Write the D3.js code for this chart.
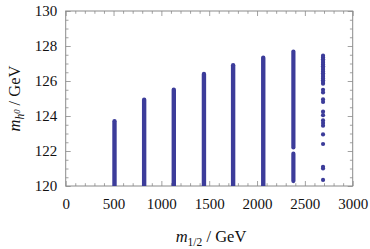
<!DOCTYPE html>
<html>
<head>
<meta charset="utf-8">
<script src="https://cdn.jsdelivr.net/npm/d3@7"></script>
<style>
  body { margin: 0; background: #fff; }
  text { font-family: "Liberation Serif", "Times New Roman", serif; }
</style>
</head>
<body>
<div id="chart"></div>
<script>
// m1/2 values of each vertical band
var m12 = [510, 820, 1130, 1445, 1750, 2065, 2380];
// continuous ranges of m_h0 for each band (lo, hi)
var bands = [
  [[120, 123.7]],
  [[120, 124.93]],
  [[120, 125.5]],
  [[120, 126.4]],
  [[120, 126.9]],
  [[120, 127.33]],
  [[120.28, 121.85], [122.2, 127.68]]
];
// last band, isolated points
var m12Last = 2690;
var lastPoints = [127.45, 127.35, 127.25, 127.15, 127.05, 126.95, 126.85, 126.75, 126.65,
  126.55, 126.45, 126.35, 126.25, 126.15, 126.05, 125.95, 125.85, 125.5, 125.35, 124.95, 124.8,
  124.25, 124.05, 123.75, 123.6, 123.45, 122.95, 122.4, 121.1, 121.0, 120.35];

var xMajor = [0, 500, 1000, 1500, 2000, 2500, 3000];
var yMajor = [120, 122, 124, 126, 128, 130];

var W = 370, H = 249;
var margin = {top: 11, right: 17.3, bottom: 63, left: 65.7},
    width = W - margin.left - margin.right,
    height = H - margin.top - margin.bottom;

var color = "#3c3c9a", frameColor = "#8a8a8a";

var svg = d3.select("#chart").append("svg")
  .attr("width", W).attr("height", H)
  .append("g")
  .attr("transform", "translate(" + margin.left + "," + margin.top + ")");

var x = d3.scaleLinear().domain([0, 3000]).range([0, width]);
var y = d3.scaleLinear().domain([120, 130]).range([height, 0]);

svg.append("clipPath").attr("id", "clip")
  .append("rect").attr("width", width).attr("height", height);

var xMinor = d3.range(0, 3001, 100).filter(function(d){ return d % 500 != 0; });
var yMinor = d3.range(120, 130.01, 0.5).filter(function(d){ return Math.abs(d % 2) > 0.01; });

function styleAxis(g) {
  g.select(".domain").remove();
  g.selectAll(".tick line").attr("stroke", frameColor).attr("stroke-width", 0.8);
  g.selectAll("text").attr("fill", "#111").style("font-size", "15px")
    .style("font-family", "'Liberation Serif', serif");
}

// bottom
svg.append("g").attr("transform", "translate(0," + height + ")")
  .call(d3.axisBottom(x).tickValues(xMajor).tickFormat(d3.format("d")).tickSize(-5).tickPadding(12.8))
  .call(styleAxis);
svg.append("g").attr("transform", "translate(0," + height + ")")
  .call(d3.axisBottom(x).tickValues(xMinor).tickFormat("").tickSize(-2.8))
  .call(styleAxis);
// top
svg.append("g")
  .call(d3.axisTop(x).tickValues(xMajor).tickFormat("").tickSize(-5))
  .call(styleAxis);
svg.append("g")
  .call(d3.axisTop(x).tickValues(xMinor).tickFormat("").tickSize(-2.8))
  .call(styleAxis);
// left
svg.append("g")
  .call(d3.axisLeft(y).tickValues(yMajor).tickFormat(d3.format("d")).tickSize(-5).tickPadding(8.5))
  .call(styleAxis);
svg.append("g")
  .call(d3.axisLeft(y).tickValues(yMinor).tickFormat("").tickSize(-2.8))
  .call(styleAxis);
// right
svg.append("g").attr("transform", "translate(" + width + ",0)")
  .call(d3.axisRight(y).tickValues(yMajor).tickFormat("").tickSize(-5))
  .call(styleAxis);
svg.append("g").attr("transform", "translate(" + width + ",0)")
  .call(d3.axisRight(y).tickValues(yMinor).tickFormat("").tickSize(-2.8))
  .call(styleAxis);

// frame
svg.append("rect").attr("width", width).attr("height", height)
  .attr("fill", "none").attr("stroke", frameColor).attr("stroke-width", 1);

// bands
var plot = svg.append("g").attr("clip-path", "url(#clip)");
m12.forEach(function(m, i) {
  plot.selectAll(null).data(bands[i]).enter().append("line")
    .attr("x1", x(m)).attr("x2", x(m))
    .attr("y1", function(d){ return y(d[0]); })
    .attr("y2", function(d){ return y(d[1]); })
    .attr("stroke", color)
    .attr("stroke-width", i == 6 ? 4.2 : 4.4)
    .attr("stroke-linecap", "round");
});
plot.selectAll(null).data(lastPoints).enter().append("circle")
  .attr("cx", x(m12Last)).attr("cy", function(d){ return y(d); })
  .attr("r", 2.1).attr("fill", color);

// axis titles
var xt = svg.append("text")
  .attr("x", 211 - margin.left).attr("y", 242 - margin.top)
  .attr("text-anchor", "middle").style("font-size", "16.5px").attr("fill", "#111");
xt.append("tspan").style("font-style", "italic").text("m");
xt.append("tspan").attr("dy", 3.5).style("font-size", "11.5px").text("1/2");
xt.append("tspan").attr("dy", -3.5).text(" / GeV");

var yt = svg.append("text")
  .attr("transform", "translate(" + (20.5 - margin.left) + "," + (height / 2) + ") rotate(-90)")
  .attr("text-anchor", "middle").style("font-size", "16.5px").attr("fill", "#111");
yt.append("tspan").style("font-style", "italic").text("m");
yt.append("tspan").attr("dy", 3.5).style("font-size", "11.5px").style("font-style", "italic").text("h");
yt.append("tspan").attr("dy", -4).style("font-size", "8.5px").style("font-style", "italic").text("0");
yt.append("tspan").attr("dy", 0.5).text(" / GeV");
</script>
</body>
</html>
